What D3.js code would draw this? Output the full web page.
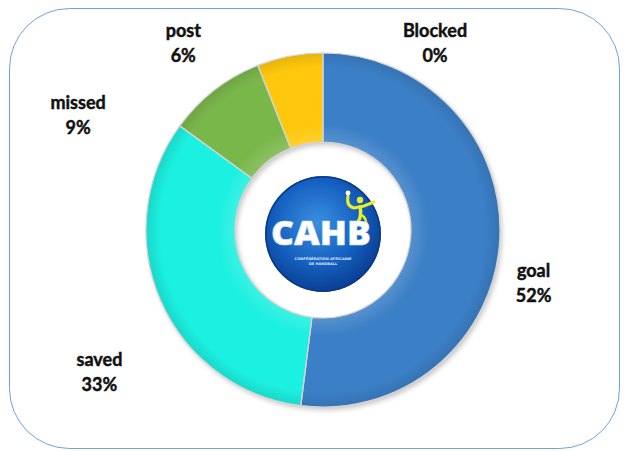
<!DOCTYPE html>
<html>
<head>
<meta charset="utf-8">
<script src="https://cdn.jsdelivr.net/npm/d3@7"></script>
<style>
  html, body { margin: 0; padding: 0; background: #fff; }
  #chart { width: 625px; height: 451px; }
  .slice-label { font-family: Lato, "Open Sans", sans-serif; font-weight: 700; font-size: 18px; fill: #111; stroke: #111; stroke-width: 0.45px; }
</style>
</head>
<body>
<div id="chart"></div>
<script>
// 데이터: 슛 결과 분포 (%)
const categories = ['goal', 'saved', 'missed', 'post', 'Blocked'];
const shotValues = [52, 33, 9, 6, 0];
const sliceColors = ['#3b7fc6', '#1cf0e0', '#7ab74b', '#ffc80c', '#a5a5a5'];

// 라벨 위치 보정값 (엑셀 라벨 배치에 맞춤)
const labelOffsets = {
    goal:    { x: -1,   y: 34 },
    saved:   { x: -29,  y: 52 },
    missed:  { x: -115, y: 47 },
    post:    { x: -100, y: 15 },
    Blocked: { x: 112,  y: 19 }
};

const width = 625, height = 451;
const cx = 323, cy = 230;
const outerR = 177, innerR = 88;

const svg = d3.select('#chart').append('svg')
    .attr('width', width)
    .attr('height', height);

const defs = svg.append('defs');

// 외곽 둥근 테두리
svg.append('rect')
    .attr('x', 9.5).attr('y', 8.5)
    .attr('width', 610).attr('height', 440)
    .attr('rx', 60).attr('ry', 60)
    .attr('fill', 'none')
    .attr('stroke', '#6fa3d8')
    .attr('stroke-width', 1);

// 그림자
const shadow = defs.append('filter').attr('id', 'ringShadow')
    .attr('x', '-20%').attr('y', '-20%').attr('width', '140%').attr('height', '140%');
shadow.append('feDropShadow')
    .attr('dx', 2).attr('dy', 3).attr('stdDeviation', 2.5)
    .attr('flood-color', '#000').attr('flood-opacity', 0.22);

// 베벨 느낌의 방사형 그라디언트 (중심 기준)
const bevel = defs.append('radialGradient').attr('id', 'bevel')
    .attr('gradientUnits', 'userSpaceOnUse')
    .attr('cx', 0).attr('cy', 0).attr('r', outerR);
bevel.append('stop').attr('offset', innerR / outerR).attr('stop-color', '#fff').attr('stop-opacity', 0.14);
bevel.append('stop').attr('offset', 0.6).attr('stop-color', '#fff').attr('stop-opacity', 0.0);
bevel.append('stop').attr('offset', 0.92).attr('stop-color', '#000').attr('stop-opacity', 0.0);
bevel.append('stop').attr('offset', 1).attr('stop-color', '#000').attr('stop-opacity', 0.1);

const data = categories.map((c, i) => ({ name: c, value: shotValues[i], color: sliceColors[i] }));

const pie = d3.pie().sort(null).value(d => d.value);
const arcs = pie(data);
const visible = arcs.filter(d => d.value > 0);

const arc = d3.arc().innerRadius(innerR).outerRadius(outerR);
const labelArc = d3.arc().innerRadius(212).outerRadius(212);

const g = svg.append('g').attr('transform', `translate(${cx},${cy})`);

// 1. 조각
const ring = g.append('g').attr('filter', 'url(#ringShadow)');
ring.selectAll('path.slice')
    .data(visible)
    .enter()
    .append('path')
    .attr('class', 'slice')
    .attr('d', arc)
    .attr('fill', d => d.data.color);

// 2. 베벨 오버레이
g.selectAll('path.bevel')
    .data(visible)
    .enter()
    .append('path')
    .attr('class', 'bevel')
    .attr('d', arc)
    .attr('fill', 'url(#bevel)')
    .attr('pointer-events', 'none');

// 3. 구분선
g.selectAll('path.sep')
    .data(visible)
    .enter()
    .append('path')
    .attr('class', 'sep')
    .attr('d', arc)
    .attr('fill', 'none')
    .attr('stroke', '#d4d4d4')
    .attr('stroke-width', 1.2);

// 4. 라벨
const labels = g.selectAll('text.slice-label')
    .data(arcs)
    .enter()
    .append('text')
    .attr('class', 'slice-label')
    .attr('text-anchor', 'middle')
    .attr('transform', d => {
        const c = labelArc.centroid(d);
        const off = labelOffsets[d.data.name] || { x: 0, y: 0 };
        return `translate(${c[0] + off.x},${c[1] + off.y})`;
    });
labels.append('tspan').attr('x', 0).attr('y', 0).text(d => d.data.name);
labels.append('tspan').attr('x', 0).attr('y', 25).text(d => d.data.value + '%');

// 중앙 로고 (CAHB)
const logoGrad = defs.append('radialGradient').attr('id', 'logoGrad')
    .attr('cx', '45%').attr('cy', '40%').attr('r', '60%');
logoGrad.append('stop').attr('offset', '0%').attr('stop-color', '#3a8fe0');
logoGrad.append('stop').attr('offset', '60%').attr('stop-color', '#1560c0');
logoGrad.append('stop').attr('offset', '100%').attr('stop-color', '#0a3f94');

const logo = g.append('g').attr('transform', 'translate(0,4)');
logo.append('circle').attr('r', 58).attr('fill', 'url(#logoGrad)');
logo.append('circle').attr('r', 57).attr('fill', 'none')
    .attr('stroke', '#0b3a86').attr('stroke-width', 1.5);

// 작은 선수 그림
const fig = logo.append('g').attr('transform', 'translate(35,-20)')
    .attr('stroke', '#e7ef2a').attr('stroke-linecap', 'round').attr('fill', 'none');
fig.append('circle').attr('cx', 2).attr('cy', -14).attr('r', 3.2).attr('fill', '#e7ef2a').attr('stroke', 'none');
fig.append('path').attr('d', 'M-10,-18 Q-12,-8 -4,-6 L6,-8 L16,-12').attr('stroke-width', 3);
fig.append('path').attr('d', 'M2,-7 Q4,2 0,8 L-4,16').attr('stroke-width', 3.5);
fig.append('path').attr('d', 'M2,0 Q10,4 8,14').attr('stroke-width', 2.5);
fig.append('circle').attr('cx', -10).attr('cy', -21).attr('r', 2.4).attr('fill', '#fff').attr('stroke', 'none');

logo.append('text')
    .attr('x', -2).attr('y', 11)
    .attr('text-anchor', 'middle')
    .attr('font-family', '"Open Sans", Lato, sans-serif')
    .attr('font-weight', 800)
    .attr('font-size', 34)
    .attr('textLength', 100)
    .attr('lengthAdjust', 'spacingAndGlyphs')
    .attr('fill', '#fff')
    .attr('stroke', '#cfe3f7')
    .attr('stroke-width', 0.6)
    .text('CAHB');

logo.append('text')
    .attr('x', 0).attr('y', 26)
    .attr('text-anchor', 'middle')
    .attr('font-family', '"DejaVu Sans", sans-serif')
    .attr('font-size', 3.6)
    .attr('font-weight', 700)
    .attr('fill', '#dfe9f5')
    .text('CONFÉDÉRATION AFRICAINE');
logo.append('text')
    .attr('x', 0).attr('y', 31)
    .attr('text-anchor', 'middle')
    .attr('font-family', '"DejaVu Sans", sans-serif')
    .attr('font-size', 3.6)
    .attr('font-weight', 700)
    .attr('fill', '#dfe9f5')
    .text('DE HANDBALL');
</script>
</body>
</html>
